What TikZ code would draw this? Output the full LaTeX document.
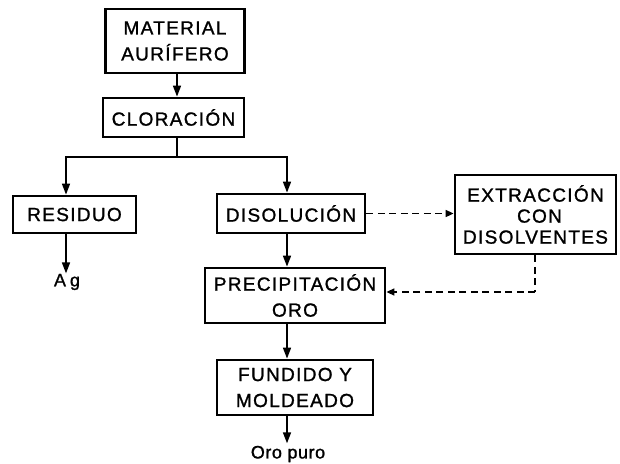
\documentclass[tikz,border=0pt]{standalone}
\usepackage{fontspec}
\setmainfont[LetterSpace=7,FakeBold=1.2]{Liberation Sans}
\newfontfamily\labelfont[LetterSpace=3,FakeBold=1.2]{Liberation Sans}
\usetikzlibrary{arrows.meta,calc}
\begin{document}
\begin{tikzpicture}[x=1pt,y=-1pt,
  box/.style={draw,line width=2.8pt,align=center,inner sep=0pt,
    font=\fontsize{19}{26}\selectfont},
  arr/.style={line width=1.6pt,-{Triangle[length=11pt,width=8pt]}},
  dasharr/.style={line width=1.6pt,dash pattern=on 7pt off 4.5pt,-{Triangle[length=8pt,width=7pt]}},
  dashline/.style={line width=1.6pt,dash pattern=on 7pt off 4.5pt},
  plain/.style={line width=1.6pt},
  label/.style={font=\labelfont\fontsize{18}{20}\selectfont}]
\useasboundingbox (0,0) rectangle (620,463);

% process boxes
\node[box,minimum width=139pt,minimum height=64pt] (mat) at (175,41) {MATERIAL\\AURÍFERO};
\node[box,minimum width=141pt,minimum height=39pt] (clo) at (173.5,117.5) {CLORACIÓN};
\node[box,minimum width=123pt,minimum height=37pt] (res) at (74.5,214.5) {RESIDUO};
\node[box,minimum width=148pt,minimum height=39pt] (dis) at (291,213.5) {DISOLUCIÓN};
\node[box,minimum width=161pt,minimum height=79pt,font=\fontsize{19}{21}\selectfont] (ext) at (535.5,214.5) {EXTRACCIÓN\\\hspace*{8pt}CON\\DISOLVENTES};
\node[box,minimum width=180pt,minimum height=55pt] (pre) at (295,295.5) {PRECIPITACIÓN\\ORO};
\node[box,minimum width=156pt,minimum height=55pt] (fun) at (295,387.5) {FUNDIDO Y\\MOLDEADO};

% products
\node[label] (ag) at (67,282) {A\hspace{4pt}g};
\node[label] (oro) at (288,454) {Oro puro};

% guide coordinates
\coordinate (top) at (177,0);
\coordinate (spine) at (287,0);
\coordinate (left) at (66,0);
\coordinate (split) at (177,157);
\coordinate (back) at (535,292);

% main flow
\draw[arr] (mat.south -| top) -- (clo.north -| top);
\draw[plain] (clo.south -| top) -- (split);
\draw[arr] (split) -| (res.north -| left);
\draw[arr] (split) -| (dis.north -| spine);
\draw[arr] (res.south -| left) -- ($(ag.north -| left)+(0,3)$);
\draw[arr] (dis.south -| spine) -- (pre.north -| spine);
\draw[arr] (pre.south -| spine) -- (fun.north -| spine);
\draw[arr] (fun.south -| spine) -- ($(oro.north -| spine)+(0,1)$);

% solvent extraction loop
\draw[dasharr] (dis.east) -- (dis.east -| ext.west);
\draw[dashline] (ext.south -| back) -- (back);
\draw[dasharr] (back) -- (back -| pre.east);
\end{tikzpicture}
\end{document}
